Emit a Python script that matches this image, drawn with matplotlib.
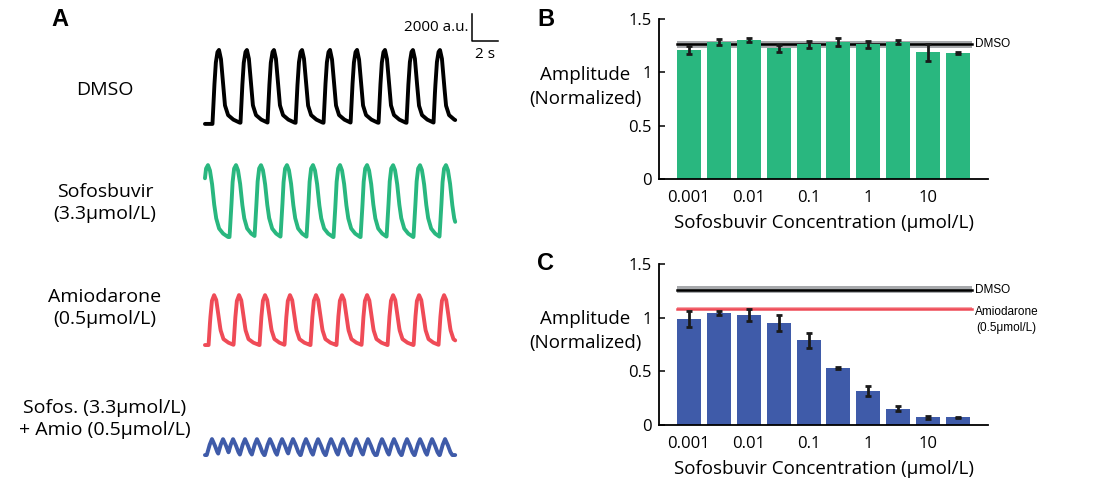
import numpy as np
import matplotlib.pyplot as plt

plt.rcParams['font.family'] = ['Open Sans', 'DejaVu Sans']

# ---- panel B / C data
positions = np.arange(1, 11)
tick_labels = ['0.001', '', '0.01', '', '0.1', '', '1', '', '10', '']

sofos_amp = [1.21, 1.285, 1.30, 1.225, 1.263, 1.285, 1.263, 1.285, 1.19, 1.18]
sofos_err = [0.04, 0.03, 0.02, 0.03, 0.035, 0.035, 0.035, 0.02, 0.08, 0.01]

combo_amp = [0.987, 1.043, 1.024, 0.95, 0.79, 0.53, 0.314, 0.153, 0.072, 0.072]
combo_err = [0.075, 0.015, 0.055, 0.075, 0.07, 0.01, 0.047, 0.025, 0.014, 0.005]

dmso_mean = 1.262
dmso_sem = 0.032
amio_mean = 1.083
amio_sem = 0.015

# ---- panel A traces (time in s, signal in a.u.)
t_start, t_end = 1.15, 20.4

dmso_peaks = [2.23, 4.38, 6.46, 8.62, 10.77, 12.85, 15.0, 17.15, 19.23]
sofos_peaks = [1.38, 3.54, 5.46, 7.46, 9.46, 11.54, 13.62, 15.62, 17.69, 19.69]
amio_peaks = [1.85, 3.77, 5.77, 7.69, 9.69, 11.69, 13.62, 15.62, 17.62, 19.54]
combo_peaks = [1.69, 2.54, 3.31, 4.23, 5.15, 6.15, 7.08, 7.92, 8.92, 9.85,
               10.85, 11.77, 12.77, 13.69, 14.77, 15.69, 16.69, 17.69, 18.62, 19.62]

dmso_shape_t = [-0.5, -0.38, -0.25, -0.12, 0, 0.15, 0.31, 0.46, 0.69, 1.08, 1.54, 2.0]
dmso_shape_v = [0, 0.45, 0.82, 0.97, 1, 0.88, 0.55, 0.25, 0.12, 0.06, 0.02, 0]
sofos_shape_t = [-0.5, -0.38, -0.27, -0.15, 0, 0.15, 0.31, 0.46, 0.62, 0.85, 1.15, 1.54]
sofos_shape_v = [0, 0.35, 0.75, 0.95, 1, 0.93, 0.75, 0.48, 0.27, 0.12, 0.05, 0]
amio_shape_t = [-0.42, -0.3, -0.17, 0, 0.17, 0.33, 0.5, 0.72, 1.08, 1.54]
amio_shape_v = [0, 0.5, 0.88, 1, 0.9, 0.6, 0.3, 0.12, 0.05, 0]
combo_shape_t = [-0.4, -0.2, 0, 0.2, 0.4, 0.55]
combo_shape_v = [0, 0.6, 1, 0.65, 0.2, 0]

baselines = [26600, 18220, 10220, 2070]
amplitudes = [5480, 5330, 3700, 1185]

green = '#29B77F'
blue = '#3F5BA9'
red = '#EF4B57'
grey = '#A7A9AC'

fig = plt.figure(figsize=(11.01, 4.83), dpi=100)

# ---- panel A
axA = fig.add_axes([190 / 1101, 0, 320 / 1101, 1])
axA.set_xlim(0, 320 * 2 / 26)
axA.set_ylim(0, 483 * 2000 / 27)
axA.axis('off')

t = np.linspace(t_start, t_end, 2000)
traces = [
    (dmso_peaks, dmso_shape_t, dmso_shape_v, 'black'),
    (sofos_peaks, sofos_shape_t, sofos_shape_v, green),
    (amio_peaks, amio_shape_t, amio_shape_v, red),
    (combo_peaks, combo_shape_t, combo_shape_v, blue),
]
for (pk, st, sv, col), base, amp in zip(traces, baselines, amplitudes):
    y = np.zeros_like(t)
    for p in pk:
        y = np.maximum(y, np.interp(t - p, st, sv, left=0, right=0))
    axA.plot(t, base + amp * y, color=col, lw=2.8, solid_capstyle='round',
             solid_joinstyle='round')

# scale bar
sx, sy = 21.69, 32741
axA.plot([sx, sx, sx + 2], [sy + 2000, sy, sy], color='black', lw=1.1)
axA.text(sx - 0.3, sy + 1000, '2000 a.u.', ha='right', va='center', fontsize=11)
axA.text(sx + 1, sy - 1000, '2 s', ha='center', va='center', fontsize=11)

fig.text(60 / 1101, 1 - 20 / 483, 'A', fontsize=17, fontweight='bold',
         family='Liberation Sans', ha='center', va='center')
row_labels = ['DMSO', 'Sofosbuvir\n(3.3μmol/L)', 'Amiodarone\n(0.5μmol/L)',
              'Sofos. (3.3μmol/L)\n+ Amio (0.5μmol/L)']
row_y = [90, 203, 308, 419]
for lab, yy in zip(row_labels, row_y):
    fig.text(105 / 1101, 1 - yy / 483, lab, fontsize=14, ha='center',
             va='center', linespacing=1.35)


def bar_panel(ax, vals, errs, color, letter, label_y):
    ax.bar(positions, vals, width=0.8, color=color, zorder=3)
    ax.errorbar(positions, vals, yerr=errs, fmt='none', ecolor='#1a1a1a',
                elinewidth=2, capsize=2.5, capthick=2, zorder=5)
    ax.set_xlim(0, 11)
    ax.set_ylim(0, 1.5)
    ax.set_yticks([0, 0.5, 1, 1.5])
    ax.set_yticklabels(['0', '0.5', '1', '1.5'])
    ax.set_xticks(positions)
    ax.set_xticklabels(tick_labels)
    ax.tick_params(direction='in', length=4, width=1.1, labelsize=12)
    ax.tick_params(axis='x', pad=8)
    ax.tick_params(axis='y', pad=5)
    for s in ['top', 'right']:
        ax.spines[s].set_visible(False)
    for s in ['left', 'bottom']:
        ax.spines[s].set_linewidth(1.3)
        ax.spines[s].set_zorder(6)
    ax.set_xlabel('Sofosbuvir Concentration (μmol/L)', fontsize=13.5, labelpad=6)
    ax.text(-0.225, label_y, 'Amplitude\n(Normalized)', transform=ax.transAxes,
            fontsize=13.5, ha='center', va='center', linespacing=1.45)
    ax.text(-0.345, 1.0, letter, transform=ax.transAxes, fontsize=17,
            fontweight='bold', family='Liberation Sans', ha='center', va='center')


def ref_line(ax, mean, sem, color, band_color):
    xs = [0.6, 10.47]
    ax.fill_between(xs, mean - sem, mean + sem, color=band_color, lw=0, zorder=1)
    ax.plot(xs, [mean, mean], color=color, lw=1.8, zorder=2)


axB = fig.add_axes([659 / 1101, 1 - 179 / 483, 329 / 1101, 160 / 483])
bar_panel(axB, sofos_amp, sofos_err, green, 'B', 0.575)
ref_line(axB, dmso_mean, dmso_sem, 'black', grey)
axB.text(10.55, dmso_mean, 'DMSO', fontsize=8.5, family='Liberation Sans',
         ha='left', va='center', clip_on=False)

axC = fig.add_axes([659 / 1101, 1 - 425 / 483, 329 / 1101, 161 / 483])
bar_panel(axC, combo_amp, combo_err, blue, 'C', 0.584)
ref_line(axC, dmso_mean, dmso_sem, 'black', grey)
ref_line(axC, amio_mean, amio_sem, red, '#F7A5AA')
axC.text(10.55, dmso_mean, 'DMSO', fontsize=8.5, family='Liberation Sans',
         ha='left', va='center', clip_on=False)
axC.text(10.55, amio_mean - 0.03, 'Amiodarone', fontsize=8.5,
         family='Liberation Sans', ha='left', va='center', clip_on=False)
axC.text(10.62, amio_mean - 0.175, '(0.5μmol/L)', fontsize=8.5,
         family='Liberation Sans', ha='left', va='center', clip_on=False)

fig.savefig('out.png', dpi=100)
